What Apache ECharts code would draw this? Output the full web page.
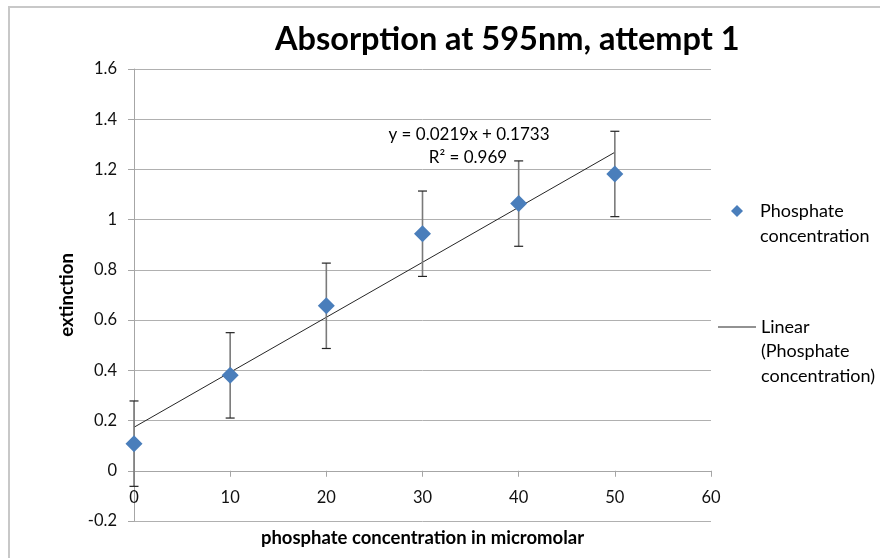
<!DOCTYPE html>
<html><head><meta charset="utf-8">
<script src="https://cdn.jsdelivr.net/npm/echarts@6/dist/echarts.min.js"></script>
<style>html,body{margin:0;padding:0;background:#fff}#c{width:880px;height:558px}</style>
</head><body><div id="c"></div>
<script>
const concentrations = [0, 10, 20, 30, 40, 50];
const extinction = [0.108, 0.380, 0.657, 0.944, 1.064, 1.182];
const errorPlusMinus = [0.17, 0.17, 0.17, 0.17, 0.17, 0.17];
const trendX = [0, 50];
const trendY = [0.1733, 1.2683];
const equationLines = ['y = 0.0219x + 0.1733', 'R² = 0.969'];
const seriesName = 'Phosphate concentration';
const trendName = 'Linear (Phosphate concentration)';

const FONT = 'Lato';
const chart = echarts.init(document.getElementById('c'), null, {renderer: 'canvas'});

const scatterData = concentrations.map((x, i) => [x, extinction[i]]);
const errorData = concentrations.map((x, i) => [x, extinction[i] - errorPlusMinus[i], extinction[i] + errorPlusMinus[i]]);
const trendData = trendX.map((x, i) => [x, trendY[i]]);

const GRID = {left: 134, right: 169, top: 69, bottom: 37};

chart.setOption({
  animation: false,
  backgroundColor: '#fff',
  textStyle: {fontFamily: FONT},
  title: {
    text: 'Absorption at 595nm, attempt 1',
    left: 275, top: 23, padding: 0,
    textStyle: {fontFamily: FONT, fontSize: 32.5, fontWeight: 'bold', color: '#000'}
  },
  grid: Object.assign({containLabel: false, outerBoundsMode: 'none'}, GRID),
  legend: [
    {
      data: [seriesName], orient: 'vertical', left: 731, top: 173.5, padding: 0,
      itemWidth: 12, itemHeight: 12,
      formatter: () => '\nPhosphate\nconcentration',
      textStyle: {fontFamily: FONT, fontSize: 18, color: '#000', lineHeight: 25, padding: [0, 0, 0, 12]}
    },
    {
      data: [{name: trendName, icon: 'rect'}], orient: 'vertical', left: 718, top: 265.75, padding: 0,
      itemWidth: 38, itemHeight: 1,
      formatter: () => '\n\nLinear\n(Phosphate\nconcentration)',
      textStyle: {fontFamily: FONT, fontSize: 18, color: '#000', lineHeight: 24.5}
    }
  ],
  xAxis: {
    type: 'value', min: 0, max: 60, interval: 10,
    name: 'phosphate concentration in micromolar',
    nameLocation: 'middle', nameGap: 58,
    nameTextStyle: {fontFamily: FONT, fontSize: 18.5, fontWeight: 'bold', color: '#000'},
    axisLine: {show: true, onZero: false, lineStyle: {color: '#a6a6a6', width: 1}},
    axisTick: {show: true, length: 6, lineStyle: {color: '#a6a6a6'}},
    axisLabel: {margin: 18, fontFamily: FONT, fontSize: 16.5, color: '#111'},
    splitLine: {show: false}
  },
  yAxis: {
    type: 'value', min: -0.2, max: 1.6, interval: 0.2,
    name: 'extinction', nameLocation: 'middle', nameGap: 53, nameRotate: 90,
    nameTextStyle: {fontFamily: FONT, fontSize: 18.5, fontWeight: 'bold', color: '#000'},
    axisLine: {show: true, lineStyle: {color: '#a6a6a6', width: 1}},
    axisTick: {show: true, length: 6, lineStyle: {color: '#a6a6a6'}},
    axisLabel: {margin: 17, fontFamily: FONT, fontSize: 16.5, color: '#111'},
    splitLine: {show: true, lineStyle: {color: '#b0b0b0', width: 1}}
  },
  graphic: [
    {type: 'rect', z: -10, silent: true, shape: {x: 9, y: 7, width: 1000, height: 700},
     style: {fill: null, stroke: '#c8c8c8', lineWidth: 2}},
    {type: 'text', silent: true, z: 100,
     style: {text: equationLines[0], x: 469, y: 135, align: 'center', verticalAlign: 'middle',
             font: '17px ' + FONT, fill: '#000'}},
    {type: 'text', silent: true, z: 100,
     style: {text: equationLines[1], x: 468, y: 158, align: 'center', verticalAlign: 'middle',
             font: '17px ' + FONT, fill: '#000'}}
  ],
  series: [
    {
      name: trendName, type: 'line', data: trendData, symbol: 'none',
      lineStyle: {color: '#262626', width: 1}, itemStyle: {color: '#262626'}, z: 3
    },
    {
      name: 'errors', type: 'custom', data: errorData, z: 4,
      renderItem: (params, api) => {
        const x = api.value(0);
        const lo = api.coord([x, api.value(1)]);
        const hi = api.coord([x, api.value(2)]);
        const hw = 4.5;
        return {
          type: 'group',
          children: [
            {type: 'line', shape: {x1: lo[0], y1: lo[1], x2: hi[0], y2: hi[1]}, style: {stroke: '#7a7a7a', lineWidth: 1.6}},
            {type: 'line', shape: {x1: lo[0] - hw, y1: lo[1], x2: lo[0] + hw, y2: lo[1]}, style: {stroke: '#222', lineWidth: 1.2}},
            {type: 'line', shape: {x1: hi[0] - hw, y1: hi[1], x2: hi[0] + hw, y2: hi[1]}, style: {stroke: '#222', lineWidth: 1.2}}
          ]
        };
      }
    },
    {
      name: seriesName, type: 'scatter', data: scatterData, symbol: 'diamond', symbolSize: [17, 17],
      itemStyle: {color: '#4a7ebb', opacity: 1}, z: 5
    }
  ]
});

// Move the x axis (line, ticks, labels, name) up to where y = 0, as Excel does.
const y0 = chart.convertToPixel({yAxisIndex: 0}, 0);
const plotBottom = 558 - GRID.bottom;
chart.setOption({xAxis: {offset: y0 - plotBottom}});
</script></body></html>
